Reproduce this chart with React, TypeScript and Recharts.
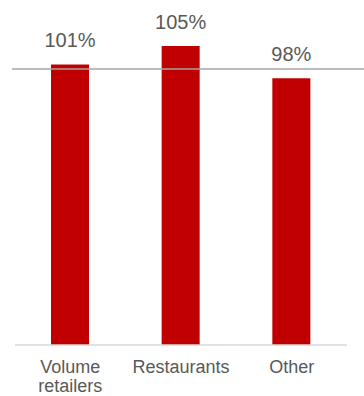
import React from "react";
import { BarChart, Bar, XAxis, YAxis, ReferenceLine, LabelList } from "recharts";

const categories = ["Volume retailers", "Restaurants", "Other"];
const values = [101, 105, 98];
const valueLabels = ["101%", "105%", "98%"];
const referenceValue = 100;

const data = categories.map((name, i) => ({ name, value: values[i], label: valueLabels[i] }));

const FONT = "'Liberation Sans', Arial, sans-serif";
const TEXT = "#595959";

const Tick = (props: any) => {
  const { x, y, payload } = props;
  const words: string[] = String(payload.value).split(" ");
  const lines = words.length > 1 && payload.value.length > 12 ? words : [payload.value];
  return (
    <text x={x} y={y} textAnchor="middle" fill={TEXT} fontSize={18} fontFamily={FONT}>
      {lines.map((l, i) => (
        <tspan key={i} x={x} dy={i === 0 ? 28 : 19}>
          {l}
        </tspan>
      ))}
    </text>
  );
};

const RefShape = (props: any) => {
  const { x1, y1, x2, y2 } = props;
  return <line x1={x1 - 3} y1={y1} x2={364} y2={y2} stroke="#a6a6a6" strokeWidth={1.5} />;
};

export default function App() {
  return (
    <div style={{ position: "absolute", left: 0, top: 0 }}>
      <BarChart
        width={364}
        height={396}
        data={data}
        margin={{ top: 23, right: 17, left: 15, bottom: 0 }}
        barCategoryGap="33%"
      >
        <XAxis
          dataKey="name"
          height={51}
          axisLine={{ stroke: "#d9d9d9", strokeWidth: 1.5 }}
          tickLine={false}
          tickSize={0}
          tickMargin={0}
          interval={0}
          tick={<Tick />}
        />
        <YAxis hide domain={[40, 110]} />
        <ReferenceLine y={referenceValue} shape={<RefShape />} />
        <Bar dataKey="value" fill="#C00000" barSize={38} isAnimationActive={false}>
          <LabelList dataKey="label" position="top" offset={17} fill={TEXT} fontSize={20} fontFamily={FONT} />
        </Bar>
      </BarChart>
    </div>
  );
}
